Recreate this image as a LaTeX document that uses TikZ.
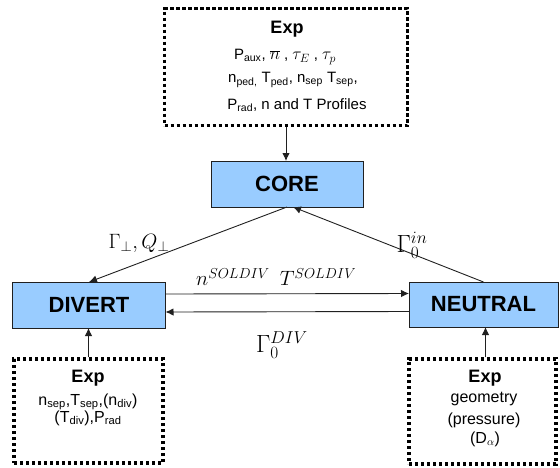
\documentclass[tikz,border=0pt]{standalone}
\usepackage{fontspec}
\setmainfont{Liberation Sans}
\usetikzlibrary{arrows.meta}
\definecolor{boxblue}{HTML}{99CCFF}
\definecolor{linegray}{HTML}{202020}
\tikzset{
  blk/.style={draw=linegray, line width=0.9pt, fill=boxblue, inner sep=0pt, outer sep=0pt,
    font=\fontsize{22}{24}\selectfont\bfseries},
  dotbox/.style={draw=black, line width=3.4pt, dash pattern=on 3.4pt off 2.6pt, inner sep=0pt, outer sep=1.7pt},
  arr/.style={draw=linegray, line width=0.9pt, -{Latex[length=8pt,width=7.5pt]}},
  exptitle/.style={font=\fontsize{18}{20}\selectfont\bfseries, inner sep=0pt},
  toptext/.style={font=\fontsize{15}{17}\selectfont, inner sep=0pt},
  bottext/.style={font=\fontsize{16}{18}\selectfont, inner sep=0pt},
  mlabel/.style={font=\fontsize{22}{26}\selectfont, inner sep=0pt},
  mlabelbig/.style={font=\fontsize{24}{28}\selectfont, inner sep=0pt}
}
\newcommand{\sbs}[1]{\textsubscript{#1}}
\newcommand{\mymath}[1]{{\fontsize{18}{20}\selectfont$#1$}}
\begin{document}
\begin{tikzpicture}[x=1pt,y=-1pt]
\useasboundingbox (0,0) rectangle (560,467);
% blocks
\node[blk, minimum width=152pt, minimum height=46pt] (core) at (287,184) {CORE};
\node[blk, minimum width=153pt, minimum height=46pt] (divert) at (89,305) {DIVERT};
\node[blk, minimum width=149pt, minimum height=45pt] (neutral) at (483.5,304.5) {NEUTRAL};
% dotted boxes
\node[dotbox, minimum width=243pt, minimum height=117pt] (exptop) at (286,67) {};
\node[dotbox, minimum width=149pt, minimum height=104pt] (expdiv) at (88.5,411) {};
\node[dotbox, minimum width=147pt, minimum height=105pt] (expneu) at (482.5,411.5) {};
% top box text
\node[exptitle] (t1) at (287,29) {Exp};
\node[toptext] (t2) at (285,57) {P\sbs{aux}, \mymath{\overline{n}} , \mymath{\tau_E} , \mymath{\tau_p}};
\node[toptext] (t3) at (293,80) {n\sbs{ped,} T\sbs{ped}, n\sbs{sep} T\sbs{sep},};
\node[toptext] (t4) at (297,105) {P\sbs{rad}, n and T Profiles};
% bottom-left text
\node[exptitle] (d1) at (88,378) {Exp};
\node[bottext] (d2) at (88,402) {n\sbs{sep},T\sbs{sep},(n\sbs{div})};
\node[bottext] (d3) at (88,418) {(T\sbs{div}),P\sbs{rad}};
% bottom-right text
\node[exptitle] (r1) at (485,378) {Exp};
\node[bottext] (r2) at (484,399) {geometry};
\node[bottext] (r3) at (484,420) {(pressure)};
\node[bottext] (r4) at (485,439) {(D\sbs{$\alpha$})};
% connectors
\draw[arr] (exptop.south) -- (exptop.south |- core.north);
\draw[arr] (core.south) -- (divert.north);
\draw[arr] (neutral.north) -- ([xshift=6pt]core.south);
\draw[arr] ([yshift=11pt]divert.east) -- ([yshift=11pt]neutral.west);
\draw[arr] ([yshift=-7pt]neutral.west) -- ([yshift=-7pt]divert.east);
\draw[arr] (expdiv.north) -- (expdiv.north |- divert.south);
\draw[arr] ([xshift=3pt]expneu.north) -- ([xshift=3pt]expneu.north |- neutral.south);
% labels
\node[mlabel] (lq) at (139,243) {$\Gamma_\perp , Q_\perp$};
\node[mlabelbig] (lin) at (412,245) {$\Gamma_0^{in}$};
\node[mlabel] (lsn) at (233,277) {$n^{SOLDIV}$};
\node[mlabel] (lst) at (318,277) {$T^{SOLDIV}$};
\node[mlabelbig] (ldiv) at (282,345) {$\Gamma_0^{DIV}$};
\end{tikzpicture}
\end{document}
